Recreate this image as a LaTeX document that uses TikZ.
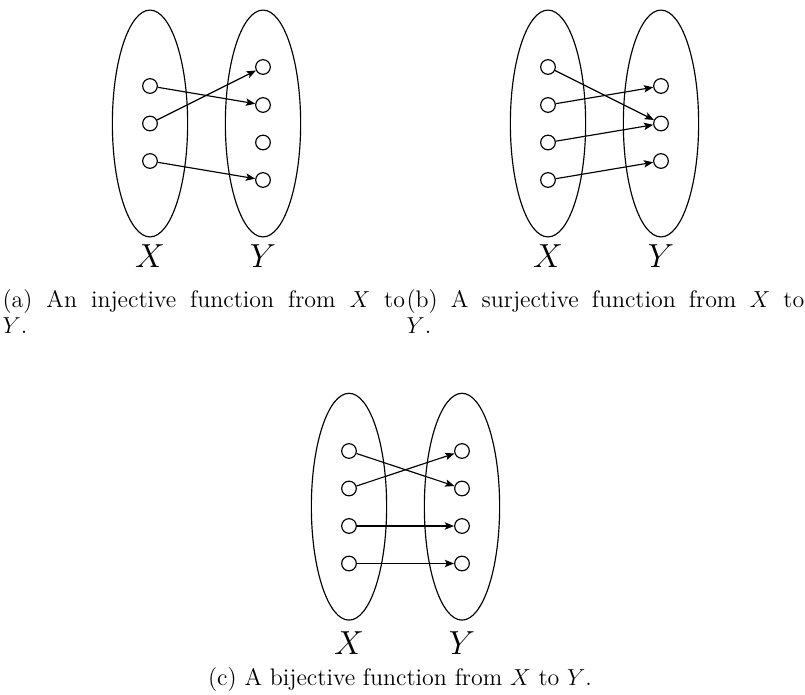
\documentclass[tikz,border=0pt]{standalone}
\usepackage{amsmath,amssymb}
\usepackage{tikz}
\usetikzlibrary{shapes.geometric,arrows.meta}

\begin{document}
\begin{tikzpicture}[x=0.518pt,y=-0.518pt,>={Stealth[length=4.8pt,width=3.8pt,inset=1pt]},line width=0.6pt,
  elem/.style={draw,circle,inner sep=0pt,minimum size=7.6pt},
  setshape/.style={draw,ellipse,inner sep=0pt,minimum width=39pt,minimum height=117.5pt},
  setname/.style={font=\fontsize{16.5}{20}\selectfont,inner sep=0pt},
  subcap/.style={font=\fontsize{12.4}{13.6}\selectfont,inner sep=0pt}]
\useasboundingbox (0,0) rectangle (805,695);
% (a) injective
\node[setshape] (aX) at (150,123.5) {};
\node[setshape] (aY) at (263,123.5) {};
\foreach \i/\y in {1/86,2/123.5,3/161}
  \node[elem] (ax\i) at (150,\y) {};
\foreach \i/\y in {1/67,2/105,3/142.5,4/180}
  \node[elem] (ay\i) at (263,\y) {};
\draw[->] (ax1) -- (ay2);
\draw[->] (ax2) -- (ay1);
\draw[->] (ax3) -- (ay4);
\node[setname] (aXl) at (150,256) {$X$};
\node[setname] (aYl) at (263,256) {$Y$};
\node[subcap,text width=208.5pt,align=justify,anchor=base west] (acap) at (2,307)
  {(a) An injective function from $X$ to\linebreak $Y$.};
% (b) surjective
\node[setshape] (bX) at (548,123.5) {};
\node[setshape] (bY) at (661,123.5) {};
\foreach \i/\y in {1/67,2/105,3/142.5,4/180}
  \node[elem] (bx\i) at (548,\y) {};
\foreach \i/\y in {1/86,2/123.5,3/161}
  \node[elem] (by\i) at (661,\y) {};
\draw[->] (bx1) -- (by2);
\draw[->] (bx2) -- (by1);
\draw[->] (bx3) -- (by2);
\draw[->] (bx4) -- (by3);
\node[setname] (bXl) at (548,256) {$X$};
\node[setname] (bYl) at (661,256) {$Y$};
\node[subcap,text width=206pt,align=justify,anchor=base west] (bcap) at (406,307)
  {(b) A surjective function from $X$ to\linebreak $Y$.};
% (c) bijective
\node[setshape] (cX) at (349,506.7) {};
\node[setshape] (cY) at (462,506.7) {};
\foreach \i/\y in {1/451,2/488.5,3/526,4/563.5} {
  \node[elem] (cx\i) at (349,\y) {};
  \node[elem] (cy\i) at (462,\y) {};
}
\draw[->] (cx1) -- (cy2);
\draw[->] (cx2) -- (cy1);
\draw[->] (cx3) -- (cy3);
\draw[->] (cx4) -- (cy4);
\node[setname] (cXl) at (349,643) {$X$};
\node[setname] (cYl) at (462,643) {$Y$};
\node[subcap,anchor=base] (ccap) at (400,685)
  {(c) A bijective function from $X$ to $Y$.};
\end{tikzpicture}
\end{document}
